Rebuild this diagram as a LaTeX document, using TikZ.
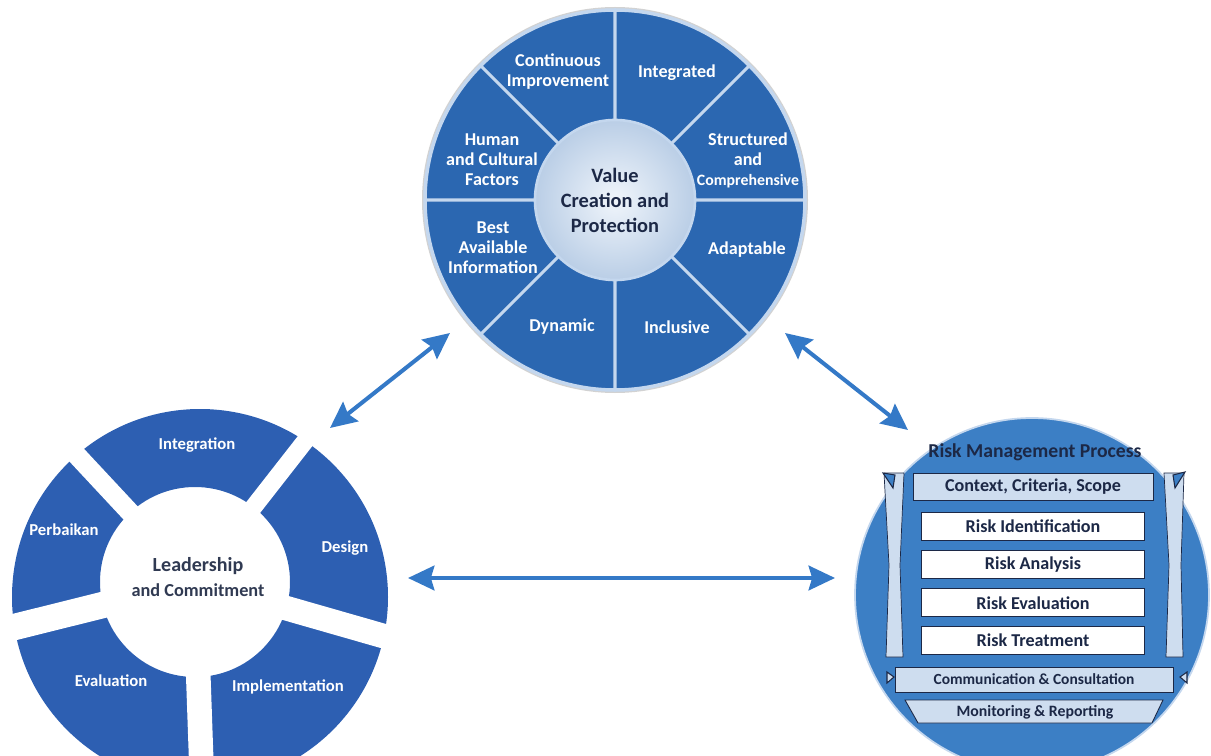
\documentclass[tikz,border=0pt]{standalone}
\usepackage{fontspec}
\setmainfont{Carlito}
\usetikzlibrary{arrows.meta}
\usetikzlibrary{positioning}
\usetikzlibrary{calc}

\definecolor{sector}{RGB}{43,103,177}
\definecolor{ring}{RGB}{45,95,178}
\definecolor{proc}{RGB}{60,127,197}
\definecolor{rim}{RGB}{196,215,238}
\definecolor{pale}{RGB}{206,221,239}
\definecolor{hubin}{RGB}{240,245,251}
\definecolor{hubout}{RGB}{186,206,230}
\definecolor{navy}{RGB}{28,40,70}
\definecolor{arr}{RGB}{52,121,199}

\begin{document}
\begin{tikzpicture}[x=0.02cm,y=0.02cm,>={Stealth[length=15pt,width=14pt,inset=2pt]}]
\tikzstyle{w}=[white,font=\bfseries\fontsize{10.3}{11.4}\selectfont,align=center]
\tikzstyle{lr}=[white,font=\bfseries\fontsize{9.5}{11}\selectfont]
\tikzstyle{gap}=[white]
\tikzstyle{box}=[draw=navy,line width=0.5pt,fill=white,minimum width=4.46cm,minimum height=0.56cm,inner sep=0pt,text=navy,font=\bfseries\fontsize{10.3}{12}\selectfont]
\tikzstyle{link}=[arr,line width=2.3pt,<->]
\useasboundingbox (0,0) rectangle (1211,755);

% principles wheel
\coordinate (vc) at (615,555);
\fill[gray!35] (vc) circle [radius=193];
\fill[sector,draw=rim,line width=2pt] (vc) circle [radius=190];
\draw[rim,line width=1.8pt] (vc) -- +(0:190) (vc) -- +(45:190) (vc) -- +(90:190)
  (vc) -- +(135:190) (vc) -- +(180:190) (vc) -- +(225:190) (vc) -- +(270:190)
  (vc) -- +(315:190);
\shade[inner color=hubin,outer color=hubout] (vc) circle [radius=80];
\draw[rim,line width=1.5pt] (vc) circle [radius=80];
\node[navy,font=\bfseries\fontsize{11.6}{14.2}\selectfont,align=center] (vcp) at (vc) {Value\\Creation and\\Protection};
\node[w] (ci) at (558,683) {Continuous\\Improvement};
\node[w] (ig) at (677,682) {Integrated};
\node[w] (sc) at (748,595) {Structured\\and\\{\fontsize{9}{11.4}\selectfont Comprehensive}};
\node[w] (ad) at (747,505) {Adaptable};
\node[w] (in) at (677,428) {Inclusive};
\node[w] (dy) at (562,428) {Dynamic};
\node[w] (bi) at (493,507) {Best\\Available\\Information};
\node[w] (hf) at (492,595) {Human\\and Cultural\\Factors};

% framework ring
\coordinate (lc) at (200,158);
\coordinate (lh) at (195,173);
\fill[ring,even odd rule] (lc) circle [radius=188] (lh) circle [radius=95];
\draw[gap,line width=10pt] (lh) -- +(52:200);
\draw[gap,line width=11pt] (lh) -- +(133:200);
\draw[gap,line width=15pt] (lh) -- +(194:200);
\draw[gap,line width=14pt] (lh) -- +(272:200);
\draw[gap,line width=14pt] (lh) -- +(-16:200);
\node[navy!80!gray,font=\bfseries\fontsize{11.4}{14}\selectfont,align=center] (lead) at (198,178)
  {Leadership\\{\fontsize{10.4}{14}\selectfont and Commitment}};
\node[lr] (itg) at (197,310) {Integration};
\node[lr] (prb) at (64,225) {Perbaikan};
\node[lr] (dsg) at (345,207) {Design};
\node[lr] (evl) at (111,74) {Evaluation};
\node[lr] (imp) at (288,68) {Implementation};

% process circle
\coordinate (rc) at (1032,160);
\fill[proc,draw=rim,line width=1pt] (rc) circle [radius=177];
\node[navy,font=\bfseries\fontsize{11.2}{13}\selectfont] (rmp) at (1035,303) {Risk Management Process};
\filldraw[fill=pale,draw=navy,line width=0.4pt] (884,282) -- (904,282) -- (900,190) -- (903,98)
  -- (886,98) -- (889,190) -- cycle;
\filldraw[fill=pale,draw=navy,line width=0.4pt] (1164,282) -- (1184,282) -- (1181,190) -- (1183,98)
  -- (1166,98) -- (1169,190) -- cycle;
\filldraw[fill=proc,draw=navy,line width=0.6pt] (883,282) -- (895,280) -- (893,267) -- cycle;
\filldraw[fill=proc,draw=navy,line width=0.6pt] (1173,280) -- (1185,283) -- (1175,267) -- cycle;
\node[box,fill=pale,minimum width=4.8cm,minimum height=0.54cm] (ctx) at (1033,268) {Context, Criteria, Scope};
\node[box] (rid) at (1033,229) {Risk Identification};
\node[box,below=0.2cm of rid] (ran) {Risk Analysis};
\node[box,below=0.18cm of ran] (rev) {Risk Evaluation};
\node[box,below=0.18cm of rev] (rtr) {Risk Treatment};
\node[box,fill=pale,minimum width=5.56cm,minimum height=0.5cm,font=\bfseries\fontsize{8.8}{10}\selectfont] (com) at (1034,75.5) {Communication \& Consultation};
\filldraw[fill=pale,draw=navy,line width=0.6pt] (887,83) -- (894,78) -- (887,72) -- cycle;
\filldraw[fill=pale,draw=navy,line width=0.6pt] (1187,83) -- (1180,78) -- (1187,72) -- cycle;
\filldraw[fill=pale,draw=navy,line width=0.5pt] (905,55) -- (1163,55) -- (1152,32) -- (918,32) -- cycle;
\node[navy,font=\bfseries\fontsize{9}{10}\selectfont] (mon) at (1035,43) {Monitoring \& Reporting};

% links between the three parts
\coordinate (p1) at (450,422);
\coordinate (p2) at (330,327);
\coordinate (p3) at (785,422);
\coordinate (p4) at (908,325);
\coordinate (p5) at (408,177);
\coordinate (p6) at (835,177);
\draw[link] (p1) -- (p2);
\draw[link] (p3) -- (p4);
\draw[link] (p5) -- (p6);
\end{tikzpicture}
\end{document}
